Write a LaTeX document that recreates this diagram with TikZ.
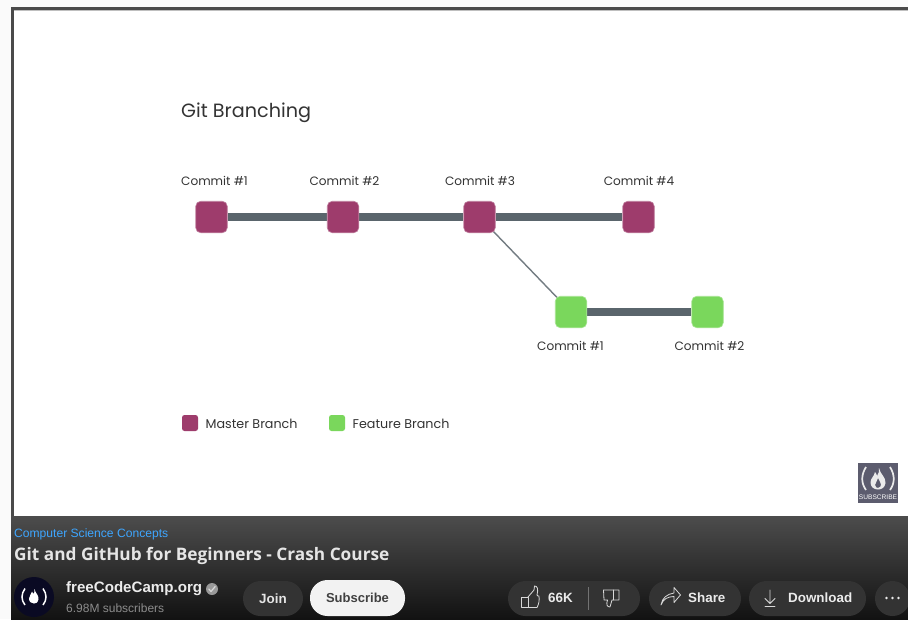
\documentclass[tikz,border=0pt]{standalone}
\usepackage{fontspec}
\setmainfont{Liberation Sans}
\newfontfamily\dfont{Poppins}
\newfontfamily\yfont{Open Sans}
\pgfdeclarelayer{paper}
\pgfdeclarelayer{wires}
\pgfsetlayers{paper,wires,main}
\definecolor{master}{HTML}{9E3C6C}
\definecolor{feature}{HTML}{7AD75C}
\definecolor{branchline}{HTML}{5A656C}
\definecolor{inktext}{HTML}{333333}
\definecolor{btn}{HTML}{333333}
\definecolor{frameline}{HTML}{4A4A4A}
\definecolor{ylink}{HTML}{3EA6FF}
\definecolor{submark}{HTML}{5C5C6E}
\definecolor{navy}{HTML}{0A0A23}
\tikzset{
  x=1pt,y=-1pt,
  commit/.style={rectangle,rounded corners=5pt,minimum size=31.5pt,inner sep=0pt,draw=#1!65,line width=.6pt,fill=#1},
  legendbox/.style={rectangle,rounded corners=2.5pt,minimum size=16pt,inner sep=0pt,fill=#1},
  clabel/.style={inner sep=0pt,text=inktext,font=\dfont\fontsize{12.1}{14}\selectfont},
  legendlabel/.style={inner sep=0pt,anchor=west,text=inktext,font=\dfont\fontsize{12.7}{14}\selectfont},
  mainline/.style={draw=branchline,line width=8pt},
  thinline/.style={draw=branchline!85,line width=1.4pt},
  pill/.style={rectangle,rounded corners=17.5pt,fill=btn,inner sep=0pt},
  ybtn/.style={inner sep=0pt,text=white!92!black,font=\bfseries\fontsize{13.4}{16}\selectfont},
  icon/.style={draw=white!85!black,line width=.8pt,line join=round,line cap=round},
}
\begin{document}
\begin{tikzpicture}
\useasboundingbox (0,0) rectangle (908,619);
\begin{pgfonlayer}{paper}
\fill[white!98!black] (0,0) rectangle (908,619);
\fill[white] (14,10) rectangle (908,516);
\fill[frameline] (11,7) rectangle (908,10);
\fill[frameline] (11,7) rectangle (14,516);
\fill[black!25] (14,10) rectangle (908,11);
\shade[top color=black!70,bottom color=black!93,shading angle=0] (11,516) rectangle (908,619);
\end{pgfonlayer}
% diagram
\node[clabel,anchor=west] (t) at (181,113) {\fontsize{19.2}{24}\selectfont Git Branching};
\node[commit=master] (m1) at (211.5,217) {};
\node[commit=master] (m2) at (343,217) {};
\node[commit=master] (m3) at (479.5,217) {};
\node[commit=master] (m4) at (638.5,217) {};
\node[commit=feature] (f1) at (571,312) {};
\node[commit=feature] (f2) at (707.5,312) {};
\begin{pgfonlayer}{wires}
\draw[mainline] (m1) -- (m2);
\draw[mainline] (m2) -- (m3);
\draw[mainline] (m3) -- (m4);
\draw[mainline] (f1) -- (f2);
\draw[thinline] (m3.center) -- (f1.center);
\end{pgfonlayer}
\node[clabel] (l1) at (214.5,181) {Commit \#1};
\node[clabel] (l2) at (344.5,181) {Commit \#2};
\node[clabel] (l3) at (480,181) {Commit \#3};
\node[clabel] (l4) at (639,181) {Commit \#4};
\node[clabel] (l5) at (570.5,346) {Commit \#1};
\node[clabel] (l6) at (709.5,346) {Commit \#2};
\node[legendbox=master] (k1) at (190,423) {};
\node[legendbox=feature] (k2) at (337,423) {};
\node[legendlabel] (k1t) at (205.5,424) {Master Branch};
\node[legendlabel] (k2t) at (352.5,423.5) {Feature Branch};
% subscribe mark
\node[rectangle,fill=submark,minimum size=40pt,inner sep=0pt] (sub) at (878,483) {};
\node[inner sep=0pt,text=white,font=\fontsize{6.6}{7}\selectfont] (subt) at (878,497) {SUBSCRIBE};
\draw[white!92!black,line width=1.7pt] (866,467) .. controls (861,475) and (861,483) .. (866,490);
\draw[white!92!black,line width=1.7pt] (890,467) .. controls (895,475) and (895,483) .. (890,490);
\fill[white!92!black,even odd rule] (879,468) .. controls (880,474) and (886,477) .. (885.5,483) .. controls (885,488) and (881,489.5) .. (878,489.5) .. controls (874,489.5) and (870.5,487) .. (870.5,482.5) .. controls (870.5,478) and (874,477) .. (875,472) .. controls (876,473) and (877,475) .. (877,476) .. controls (878.5,474) and (879.5,471) .. (879,468) -- cycle
 (878,478) .. controls (878,481) and (875,482) .. (875,485) .. controls (875,487) and (877,488) .. (878,488) .. controls (880,488) and (881,486) .. (881,484.5) .. controls (881,482) and (879,481) .. (878,478) -- cycle;
% bar text
\node[inner sep=0pt,anchor=west,text=ylink,font=\fontsize{12.1}{14}\selectfont] (cat) at (14,534) {Computer Science Concepts};
\node[inner sep=0pt,anchor=west,text=white!90!black,font=\yfont\bfseries\fontsize{17.25}{20}\selectfont] (ttl) at (14,556) {Git and GitHub for Beginners - Crash Course};
% avatar
\node[circle,fill=navy,minimum size=40pt,inner sep=0pt] (av) at (34,597) {};
\draw[white,line width=1.5pt] (25,588.5) .. controls (21,594) and (21,600) .. (25,605);
\draw[white,line width=1.5pt] (43,588.5) .. controls (47,594) and (47,600) .. (43,605);
\fill[white] (34.5,589) .. controls (35,593) and (39,595) .. (38.5,599) .. controls (38,603) and (35.5,603.5) .. (34,603.5) .. controls (31.5,603.5) and (29,602) .. (29,598.5) .. controls (29,595.5) and (31.5,594.5) .. (32,591.5) .. controls (33,592.5) and (33.5,593) .. (33.5,594) .. controls (34.5,592.5) and (34.8,591) .. (34.5,589) -- cycle;
\node[inner sep=0pt,anchor=west,text=white!92!black,font=\bfseries\fontsize{15.1}{18}\selectfont] (chan) at (66,589) {freeCodeCamp.org};
\node[circle,fill=black!40,minimum size=12pt,inner sep=0pt] (ver) at (212,589) {};
\draw[white!85!black,line width=1.2pt,line cap=round,line join=round] (208.8,589) -- (211,591.5) -- (215.2,586.5);
\node[inner sep=0pt,anchor=west,text=black!45,font=\fontsize{12}{14}\selectfont] (subs) at (66,608.5) {6.98M subscribers};
% buttons
\node[pill,minimum width=60pt,minimum height=35pt,text=white!90!black,font=\bfseries\fontsize{13.4}{16}\selectfont] (join) at (273,598.5) {Join};
\node[pill,minimum width=95pt,minimum height=36pt,fill=white!95!black,text=black!75,font=\bfseries\fontsize{13}{16}\selectfont] (subbtn) at (357.5,598) {Subscribe};
\node[pill,minimum width=132pt,minimum height=35pt] (like) at (574,598.5) {};
\node[pill,minimum width=92pt,minimum height=35pt] (share) at (695,598.5) {};
\node[pill,minimum width=117pt,minimum height=35pt] (dl) at (807.5,598.5) {};
\node[pill,minimum width=35pt,minimum height=35pt] (more) at (892.5,598.5) {};
\node[ybtn,anchor=west] (n66) at (548,598) {66K};
\node[ybtn,anchor=west] (shtx) at (688,598) {Share};
\node[ybtn,anchor=west] (dltx) at (788,598) {Download};
\draw[black!55,line width=.8pt] (588.5,587) -- (588.5,610);
% thumbs up
\draw[icon] (521,597) -- (521,607.5) -- (528,607.5) -- (528,597) -- cycle;
\draw[icon] (528,597) -- (534,590) -- (534.5,586) .. controls (537.5,586) and (538.5,589) .. (537,595) -- (538,596) -- (539,596) .. controls (539.5,600) and (539,604) .. (537,607.5) -- (528,607.5);
% thumbs down
\draw[icon] (603.5,590) -- (619,590) -- (619,600) -- (612,600) -- (610,607) .. controls (607,607) and (606,604.5) .. (607.5,600) -- (604,600) -- cycle;
\draw[icon] (613.5,590) -- (613.5,600);
% share
\draw[icon] (661,605) .. controls (663,599) and (668,596.5) .. (674,596.5) -- (674,602.5) -- (680,595.5) -- (680.5,595) -- (674,587.5) -- (674,593) .. controls (667,594) and (662,598) .. (661,605) -- cycle;
% download
\draw[icon] (770,590) -- (770,603) (765,598.5) -- (770,603.5) -- (775,598.5);
\draw[icon] (765,606.5) -- (775,606.5);
% dots
\foreach \cx in {886.5,892.5,898.5} \fill[white!92!black] (\cx,598) circle (1.4);
\end{tikzpicture}
\end{document}
